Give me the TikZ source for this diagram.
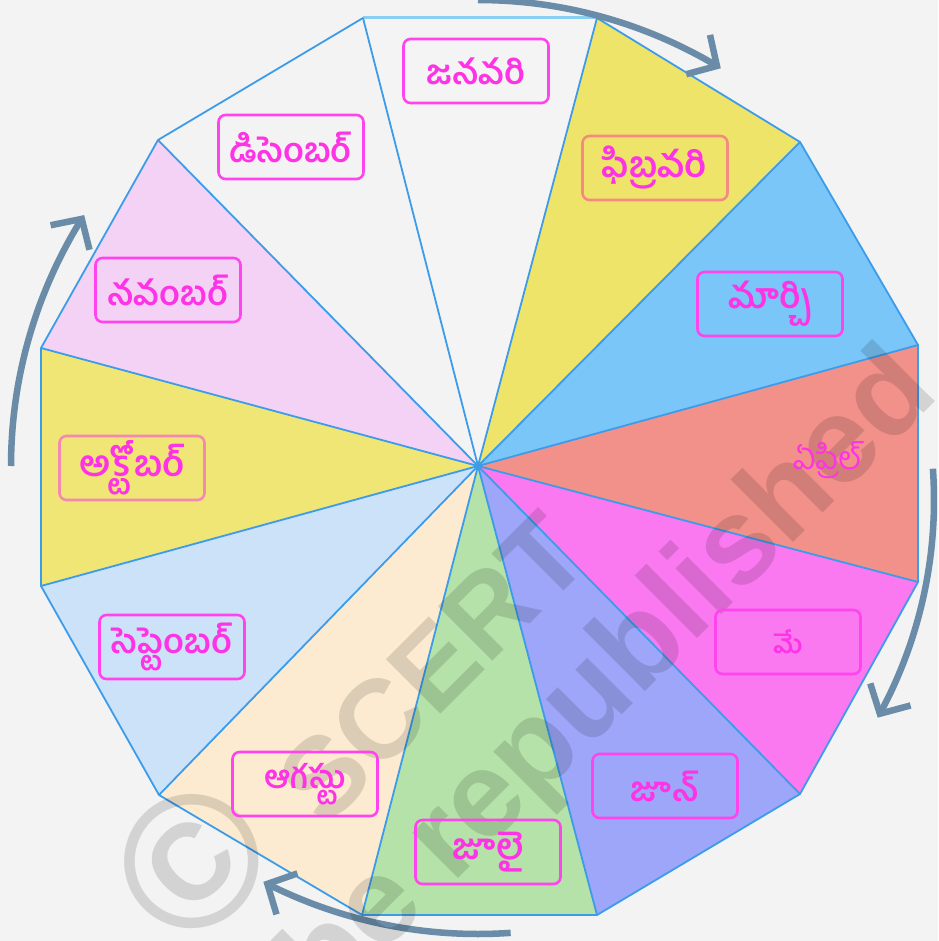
\documentclass[tikz,border=0pt]{standalone}
\usepackage{fontspec}
\newfontfamily\tel[Script=Telugu]{Hind Guntur}
\newfontfamily\wmfont{Liberation Sans}
\usetikzlibrary{arrows.meta}
\definecolor{bgc}{HTML}{F2F3F2}
\definecolor{janc}{HTML}{F3F4F3}
\definecolor{febc}{HTML}{EFE46A}
\definecolor{marc}{HTML}{7AC6F8}
\definecolor{aprc}{HTML}{F2918A}
\definecolor{mayc}{HTML}{FA78F0}
\definecolor{junc}{HTML}{9DA6F8}
\definecolor{julc}{HTML}{B4E2A8}
\definecolor{augc}{HTML}{FCEBD0}
\definecolor{sepc}{HTML}{CCE2F8}
\definecolor{octc}{HTML}{F0E676}
\definecolor{novc}{HTML}{F3D2F6}
\definecolor{decc}{HTML}{F3F3F3}
\definecolor{edgec}{HTML}{3C9CEA}
\definecolor{topedge}{HTML}{8ACEF2}
\definecolor{magc}{HTML}{FF44EE}
\definecolor{magt}{HTML}{FF33E6}
\definecolor{salc}{HTML}{F48A80}
\definecolor{octb}{HTML}{F588B0}
\definecolor{arrc}{HTML}{6A8CA8}
\tikzset{
  edge/.style={draw=edgec, line width=1.8pt, line join=round},
  lbl/.style={draw=magc, line width=2.6pt, rounded corners=7pt,
    minimum width=145pt, minimum height=64pt, inner sep=0pt, text=magt,
    font=\tel\bfseries\fontsize{34}{36}\selectfont},
  aprlbl/.style={inner sep=0pt, text=magt, font=\tel\fontsize{32}{34}\selectfont},
  cyc/.style={draw=arrc, line width=6.5pt,
    -{Straight Barb[length=22pt,width=46pt,line width=6.5pt]}},
  wm/.style={text=black, opacity=0.13, rotate=45, inner sep=0pt}
}
\begin{document}
\begin{tikzpicture}[x=1pt,y=-1pt]
\useasboundingbox (0,0) rectangle (938,941);
\fill[bgc] (0,0) rectangle (938,941);
\coordinate (O) at (478,466);
\coordinate (v1) at (363,18);
\coordinate (v2) at (597,18);
\coordinate (v3) at (800,142);
\coordinate (v4) at (918,345);
\coordinate (v5) at (918,582);
\coordinate (v6) at (800,794);
\coordinate (v7) at (597,915);
\coordinate (v8) at (362,915);
\coordinate (v9) at (159,795);
\coordinate (v10) at (41,586);
\coordinate (v11) at (41,348);
\coordinate (v12) at (158,140);
\fill[janc] (O)--(v1)--(v2)--cycle;
\fill[febc] (O)--(v2)--(v3)--cycle;
\fill[marc] (O)--(v3)--(v4)--cycle;
\fill[aprc] (O)--(v4)--(v5)--cycle;
\fill[mayc] (O)--(v5)--(v6)--cycle;
\fill[junc] (O)--(v6)--(v7)--cycle;
\fill[julc] (O)--(v7)--(v8)--cycle;
\fill[augc] (O)--(v8)--(v9)--cycle;
\fill[sepc] (O)--(v9)--(v10)--cycle;
\fill[octc] (O)--(v10)--(v11)--cycle;
\fill[novc] (O)--(v11)--(v12)--cycle;
\fill[decc] (O)--(v12)--(v1)--cycle;
\draw[edge] (v1)--(v2)--(v3)--(v4)--(v5)--(v6)--(v7)--(v8)--(v9)--(v10)--(v11)--(v12)--cycle;
\draw[draw=topedge, line width=3pt] (v1)--(v2);
\foreach \i in {1,...,12} \draw[edge] (O)--(v\i);
% cycle arrows (clockwise)
\draw[cyc] plot[domain=90:58.6, samples=40, smooth] ({478+466*cos(\x)}, {466-466*sin(\x)});
\draw[cyc] plot[domain=4:-29, samples=40, smooth] ({485+449*cos(\x)}, {500-449*sin(\x)});
\draw[cyc] plot[domain=-86:-117.3, samples=40, smooth] ({478+468*cos(\x)}, {466-468*sin(\x)});
\draw[cyc] plot[domain=180:147.5, samples=40, smooth] ({478+467*cos(\x)}, {466-467*sin(\x)});
% watermark
\begin{scope}
\clip (0,0) rectangle (938,941);
\node[wm, font=\wmfont\bfseries\fontsize{190}{190}\selectfont] (wmc) at (192,862) {©};
\node[wm, font=\wmfont\bfseries\fontsize{112}{112}\selectfont] (wms) at (432,668) {SCERT};
\node[wm, font=\wmfont\bfseries\fontsize{122}{122}\selectfont] (wmr) at (612,680) {be republished};
\end{scope}
% labels
\node[lbl] (jan) at (476,71) {జనవరి};
\node[lbl, draw=salc, font=\tel\bfseries\fontsize{36}{38}\selectfont] (feb) at (655,168) {ఫిబ్రవరి};
\node[lbl, font=\tel\bfseries\fontsize{35}{37}\selectfont] (mar) at (770,304) {మార్చి};
\node[aprlbl] (apr) at (828,460) {ఏప్రిల్};
\node[lbl, font=\tel\bfseries\fontsize{26}{28}\selectfont] (may) at (788,642) {మే};
\node[lbl] (jun) at (665,786) {జూన్};
\node[lbl, font=\tel\bfseries\fontsize{36}{38}\selectfont] (jul) at (488,852) {జూలై};
\node[lbl, font=\tel\bfseries\fontsize{32}{34}\selectfont] (aug) at (305,784) {ఆగస్టు};
\node[lbl] (sep) at (172,647) {సెప్టెంబర్};
\node[lbl, draw=octb, font=\tel\bfseries\fontsize{36}{38}\selectfont] (oct) at (132,468) {అక్టోబర్};
\node[lbl] (nov) at (168,290) {నవంబర్};
\node[lbl] (dec) at (291,147) {డిసెంబర్};
\end{tikzpicture}
\end{document}
